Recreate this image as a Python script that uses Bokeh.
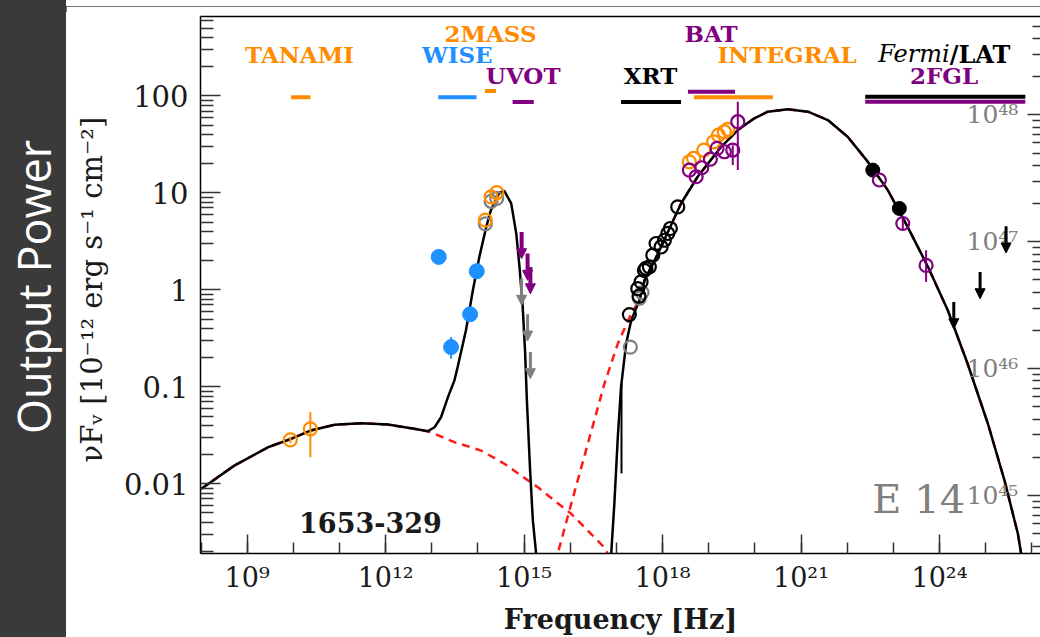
import numpy as np
from bokeh.plotting import figure
from bokeh.models import (ColumnDataSource, Range1d, LogAxis, LogScale, FixedTicker,
                          Arrow, NormalHead, Div)
from bokeh.layouts import row, column
from bokeh.core.properties import value
from bokeh.embed import file_html
from bokeh.resources import INLINE

ORANGE = "#ff8c00"
BLUE = "#1e90ff"
PURPLE = "#800080"
GRAY = "#808080"
BLACK = "#000000"
RED = "#ff1a1a"

# ---------------- model curves (log10 nu [Hz], nuFnu [1e-12 erg/s/cm2])
total_low_lognu = [8.00, 8.72, 9.45, 9.95, 10.38, 10.89, 11.47, 12.05, 12.62, 12.91, 13.06, 13.20,
                   13.35, 13.49, 13.56, 13.74, 13.89, 14.03, 14.18, 14.28, 14.46, 14.57, 14.72,
                   14.83, 14.90, 14.97, 15.02, 15.06, 15.08, 15.13, 15.19, 15.26, 15.29]
total_low_flux = [0.00885, 0.0154, 0.0238, 0.0291, 0.0355, 0.0406, 0.0422, 0.0409, 0.0369, 0.0348,
                  0.0383, 0.0486, 0.0783, 0.1165, 0.160, 0.383, 0.99, 2.19, 4.47, 6.64, 10.0, 10.5,
                  7.80, 3.82, 1.73, 0.665, 0.238, 0.0724, 0.045, 0.0137, 0.00417, 0.0019, 0.0012]

total_ic_lognu = [16.85, 16.955, 17.03, 17.10, 17.21, 17.32, 17.50, 17.61, 17.90, 18.40, 18.76,
                  19.27, 19.63, 19.99, 20.28, 20.71, 21.15, 21.58, 22.01, 22.45, 22.88, 23.31,
                  23.75, 24.18, 24.61, 25.05, 25.41, 25.70, 25.77, 25.81]
total_ic_flux = [0.001, 0.0062, 0.0302, 0.0993, 0.279, 0.485, 0.782, 1.26, 2.37, 7.78, 14.7,
                 29.9, 44.5, 58.9, 68.9, 72.9, 68.9, 56.5, 38.0, 20.9, 10.7, 4.47,
                 1.73, 0.616, 0.173, 0.0416, 0.0108, 0.00303, 0.0019, 0.00143]

sync_lognu = [8.00, 8.72, 9.45, 9.95, 10.38, 10.89, 11.47, 12.05, 12.62, 12.91, 13.06, 13.49,
              13.85, 14.07, 14.57, 15.30, 16.02, 16.74, 16.84]
sync_flux = [0.00885, 0.0154, 0.0238, 0.0291, 0.0355, 0.0406, 0.0422, 0.0409, 0.0369, 0.0348,
             0.0327, 0.0269, 0.0238, 0.0220, 0.0161, 0.0092, 0.0049, 0.0022, 0.0018]

ic_lognu = [15.67, 16.02, 16.38, 16.74, 17.03, 17.32, 17.50, 17.61, 17.90, 18.40, 18.76, 19.27,
            19.63, 19.99, 20.28, 20.71, 21.15, 21.58, 22.01, 22.45, 22.88, 23.31, 23.75, 24.18,
            24.61, 25.05, 25.41, 25.70, 25.77, 25.81]
ic_flux = [0.0015, 0.0062, 0.0258, 0.1076, 0.279, 0.569, 0.782, 1.26, 2.37, 7.78, 14.7, 29.9,
           44.5, 58.9, 68.9, 72.9, 68.9, 56.5, 38.0, 20.9, 10.7, 4.47, 1.73, 0.616,
           0.173, 0.0416, 0.0108, 0.00303, 0.0019, 0.00143]

# ---------------- data points
tanami_lognu = [9.935, 10.368]
tanami_flux = [0.0284, 0.0369]
tanami_lo = [0.0262, 0.0188]
tanami_hi = [0.0308, 0.0548]

wise_lognu = [13.150, 13.974, 13.829, 13.417]
wise_flux = [2.19, 1.56, 0.56, 0.257]
wise_lo = [2.19, 1.56, 0.56, 0.195]
wise_hi = [2.19, 1.56, 0.56, 0.326]

twomass_lognu = [14.160, 14.284, 14.407]
twomass_flux = [5.24, 9.12, 10.1]
twomass_gray_flux = [4.8, 8.2, 8.8]

uvot_ul_lognu = [14.946, 15.075, 15.136]
uvot_ul_flux = [3.96, 2.37, 1.72]
uvot_gray_ul_flux = [1.31, 0.56, 0.229]

xrt_lognu = [17.281, 17.463, 17.49, 17.534, 17.606, 17.64, 17.714, 17.788, 17.859, 17.968,
             18.039, 18.113, 18.169, 18.329]
xrt_flux = [0.556, 1.03, 0.86, 1.21, 1.59, 1.67, 1.73, 2.28, 3.01, 2.77, 3.25, 3.82, 4.30, 7.18]
xrt_gray_lognu = [17.302, 17.497, 17.555]
xrt_gray_flux = [0.257, 0.82, 0.94]
xrt_bar_lognu = [17.11]
xrt_bar_lo = [0.0128]
xrt_bar_hi = [0.108]

integral_lognu = [18.58, 18.672, 18.893, 19.109, 19.210, 19.339, 19.413]
integral_flux = [20.9, 22.7, 27.7, 33.7, 39.5, 42.8, 45.3]

bat_lognu = [18.581, 18.727, 18.849, 19.036, 19.181, 19.339, 19.521, 19.630]
bat_flux = [17.2, 14.7, 18.2, 22.3, 28.8, 26.6, 27.7, 54.3]
bat_lo = [17.2, 14.7, 18.2, 22.3, 28.8, 26.6, 19.4, 17.2]
bat_hi = [17.2, 14.7, 18.2, 22.3, 28.8, 26.6, 31.0, 87.0]

lat_lognu = [22.555, 23.131]
lat_flux = [17.2, 6.92]
fgl_lognu = [22.698, 23.205, 23.71]
fgl_flux = [13.6, 4.84, 1.79]
fgl_lo = [13.6, 4.2, 1.21]
fgl_hi = [13.6, 5.4, 2.57]
lat_ul_lognu = [24.31, 24.88, 25.443]
lat_ul_flux = [0.75, 1.53, 4.54]

# ---------------- instrument coverage bands
band_names = ["TANAMI", "WISE", "2MASS", "UVOT", "XRT", "BAT", "INTEGRAL", "Fermi/LAT", "2FGL"]
band_lo = [9.95, 13.14, 14.15, 14.75, 17.10, 18.55, 18.68, 22.39, 22.39]
band_hi = [10.37, 13.97, 14.39, 15.21, 18.40, 19.57, 20.39, 25.86, 25.86]
band_level = [97.0, 97.0, 112.6, 86.7, 86.7, 110.8, 97.0, 98.3, 87.3]
band_color = [ORANGE, BLUE, ORANGE, PURPLE, BLACK, PURPLE, ORANGE, BLACK, PURPLE]

# instrument labels (layout positions, in data units)
lab_text = ["TANAMI", "WISE", "2MASS", "UVOT", "XRT", "BAT", "INTEGRAL", "2FGL"]
lab_lognu = [10.133, 13.552, 14.273, 14.98, 17.739, 19.05, 20.70, 24.10]
lab_flux = [271, 271, 441, 163, 163, 441, 271, 163]
lab_color = [ORANGE, BLUE, ORANGE, PURPLE, BLACK, PURPLE, ORANGE, PURPLE]

x_major = [9, 12, 15, 18, 21, 24]
y_major = [-2, -1, 0, 1, 2]
lum_major = [45, 46, 47, 48]

SUP = str.maketrans("0123456789-", "⁰¹²³⁴⁵⁶⁷⁸⁹⁻")
def p10(n):
    return "10" + str(n).translate(SUP)

def hz(a):
    return [10.0 ** v for v in a]

UL_DROP = 0.53

p = figure(width=974, height=631, x_axis_type="log", y_axis_type="log",
           x_range=Range1d(10 ** 7.988, 10 ** 26.189), y_range=Range1d(10 ** -2.719, 10 ** 2.82),
           output_backend="svg", toolbar_location=None,
           min_border_left=134, min_border_right=0, min_border_top=10, min_border_bottom=84,
           background_fill_color="white", border_fill_color="white")
p.outline_line_color = None
p.xgrid.visible = False
p.ygrid.visible = False

SERIF = "DejaVu Serif"

# x axis
xa = p.xaxis[0]
xa.ticker = FixedTicker(ticks=[10.0 ** k for k in x_major], minor_ticks=[10.0 ** k for k in range(8, 27)])
xa.major_label_overrides = {10.0 ** k: p10(k) for k in x_major}
xa.major_tick_in = 19
xa.major_tick_out = 0
xa.minor_tick_in = 11
xa.minor_tick_out = 0
xa.axis_line_width = 1.5
xa.major_tick_line_color = "#333333"
xa.minor_tick_line_color = "#333333"
xa.major_tick_line_width = 1.5
xa.minor_tick_line_width = 1.5
xa.major_label_text_font = SERIF
xa.major_label_text_font_size = "27px"
xa.major_label_text_color = "#1a1a1a"
xa.major_label_standoff = 8
xa.axis_label = "Frequency [Hz]"
xa.axis_label_text_font = SERIF
xa.axis_label_text_font_size = "27px"
xa.axis_label_text_font_style = "bold"
xa.axis_label_text_color = "#1a1a1a"
xa.axis_label_standoff = 8

# y axis
ya = p.yaxis[0]
ya.ticker = FixedTicker(ticks=[10.0 ** k for k in y_major],
                        minor_ticks=[m * 10.0 ** k for k in range(-3, 3) for m in range(2, 10)])
ya.major_label_overrides = {10.0 ** k: ("%g" % (10.0 ** k)) for k in y_major}
ya.major_tick_in = 20
ya.major_tick_out = 0
ya.minor_tick_in = 13
ya.minor_tick_out = 0
ya.axis_line_width = 1.5
ya.major_tick_line_color = "#333333"
ya.minor_tick_line_color = "#333333"
ya.major_tick_line_width = 1.5
ya.minor_tick_line_width = 1.5
ya.major_label_text_font = SERIF
ya.major_label_text_font_size = "29px"
ya.major_label_text_color = "#1a1a1a"
ya.major_label_standoff = 12
ya.axis_label = "νF\u1d65  [10⁻¹² erg s⁻¹ cm⁻²]"
ya.axis_label_text_font = SERIF
ya.axis_label_text_font_size = "29px"
ya.axis_label_text_font_style = "normal"
ya.axis_label_text_color = "#1a1a1a"
ya.axis_label_standoff = 12

# top border line
top = LogAxis(ticker=FixedTicker(ticks=[]), major_tick_in=0, major_tick_out=0,
              minor_tick_in=0, minor_tick_out=0, major_label_text_font_size="0px",
              axis_line_width=1.5)
p.add_layout(top, "above")

# luminosity axis on the right
p.extra_y_ranges = {"lum": Range1d(10 ** 44.543, 10 ** 48.775)}
p.extra_y_scales = {"lum": LogScale()}
ra = LogAxis(y_range_name="lum",
             ticker=FixedTicker(ticks=[10.0 ** k for k in lum_major],
                                minor_ticks=[m * 10.0 ** k for k in range(44, 49) for m in range(2, 10)]))
ra.major_label_overrides = {10.0 ** k: p10(k) for k in lum_major}
ra.major_tick_in = 13
ra.major_tick_out = 0
ra.minor_tick_in = 8
ra.minor_tick_out = 0
ra.axis_line_color = None
ra.major_tick_line_color = "#333333"
ra.minor_tick_line_color = "#333333"
ra.major_tick_line_width = 1.5
ra.minor_tick_line_width = 1.5
ra.major_label_text_font = SERIF
ra.major_label_text_font_size = "25px"
ra.major_label_text_color = GRAY
ra.major_label_standoff = -74
p.add_layout(ra, "right")

# model curves
p.line(hz(sync_lognu), sync_flux, line_color=RED, line_width=2.5, line_dash="8 6")
p.line(hz(ic_lognu), ic_flux, line_color=RED, line_width=2.5, line_dash="8 6")
p.line(hz(total_low_lognu), total_low_flux, line_color=BLACK, line_width=2.5)
p.line(hz(total_ic_lognu), total_ic_flux, line_color=BLACK, line_width=2.5)

# instrument bands
p.segment(x0=hz(band_lo), y0=band_level, x1=hz(band_hi), y1=band_level,
          line_color=band_color, line_width=4)

# labels
p.text(x=hz(lab_lognu), y=lab_flux, text=lab_text, text_color=lab_color,
       text_font=value(SERIF), text_font_style="bold", text_font_size="23px",
       text_align="center", text_baseline="middle")
p.text(x=[10 ** 24.22], y=[271], text=["Fermi"], text_color=BLACK, text_font=value(SERIF),
       text_font_style="italic", text_font_size="24px", text_align="right", text_baseline="middle")
p.text(x=[10 ** 24.22], y=[271], text=["/LAT"], text_color=BLACK, text_font=value(SERIF),
       text_font_style="bold", text_font_size="24px", text_align="left", text_baseline="middle")
p.text(x=[10 ** 23.55], y=[0.00689], text=["E 14"], text_color=GRAY, text_font=value(SERIF),
       text_font_style="normal", text_font_size="40px", text_align="center", text_baseline="middle")
p.text(x=[10 ** 11.67], y=[0.00402], text=["1653-329"], text_color="#1a1a1a", text_font=value(SERIF),
       text_font_style="bold", text_font_size="27px", text_align="center", text_baseline="middle")

def errbars(lognu, lo, hi, color, width=2):
    p.segment(x0=hz(lognu), y0=lo, x1=hz(lognu), y1=hi, line_color=color, line_width=width)

def opens(lognu, flux, color, size=13):
    p.scatter(hz(lognu), flux, marker="circle", size=size, fill_color=None,
              line_color=color, line_width=2.2)

def arrows(lognu, flux, color, width=3):
    src = ColumnDataSource(dict(x=hz(lognu), y=flux, y2=[f * UL_DROP for f in flux]))
    p.add_layout(Arrow(end=NormalHead(size=10, fill_color=color, line_color=color, line_width=1),
                       x_start="x", y_start="y", x_end="x", y_end="y2", source=src,
                       line_color=color, line_width=width))

# TANAMI
errbars(tanami_lognu, tanami_lo, tanami_hi, ORANGE)
opens(tanami_lognu, tanami_flux, ORANGE)
# WISE
errbars(wise_lognu, wise_lo, wise_hi, BLUE)
p.scatter(hz(wise_lognu), wise_flux, marker="circle", size=15, fill_color=BLUE, line_color=BLUE)
# 2MASS
opens(twomass_lognu, twomass_gray_flux, GRAY)
opens(twomass_lognu, twomass_flux, ORANGE)
# UVOT upper limits
arrows(uvot_ul_lognu, uvot_gray_ul_flux, GRAY, 3)
arrows(uvot_ul_lognu, uvot_ul_flux, PURPLE, 4)
# XRT
errbars(xrt_bar_lognu, xrt_bar_lo, xrt_bar_hi, BLACK, 2)
opens(xrt_gray_lognu, xrt_gray_flux, GRAY)
opens(xrt_lognu, xrt_flux, BLACK)
# INTEGRAL / BAT
opens(integral_lognu, integral_flux, ORANGE)
errbars(bat_lognu, bat_lo, bat_hi, PURPLE)
opens(bat_lognu, bat_flux, PURPLE)
# Fermi
p.scatter(hz(lat_lognu), lat_flux, marker="circle", size=14, fill_color=BLACK, line_color=BLACK)
errbars(fgl_lognu, fgl_lo, fgl_hi, PURPLE)
opens(fgl_lognu, fgl_flux, PURPLE)
arrows(lat_ul_lognu, lat_ul_flux, BLACK, 3)

left_html = ('<div style="position:relative;width:66px;height:637px;background:#3a3a3a;overflow:hidden;">'
             '<div style="position:absolute;left:33px;top:287px;transform:translate(-50%,-50%) rotate(-90deg);'
             'color:#ffffff;font-family:\'Open Sans\';font-size:45px;white-space:nowrap;line-height:1;">'
             'Output Power</div></div>')
left_div = Div(text=left_html, width=66, height=637, margin=0)
top_div = Div(text='<div style="width:974px;height:6px;background:#4a4a4a;"></div>',
              width=974, height=6, margin=0)

layout = row(left_div, column(top_div, p))

open("out.html", "w").write(file_html(layout, INLINE))
